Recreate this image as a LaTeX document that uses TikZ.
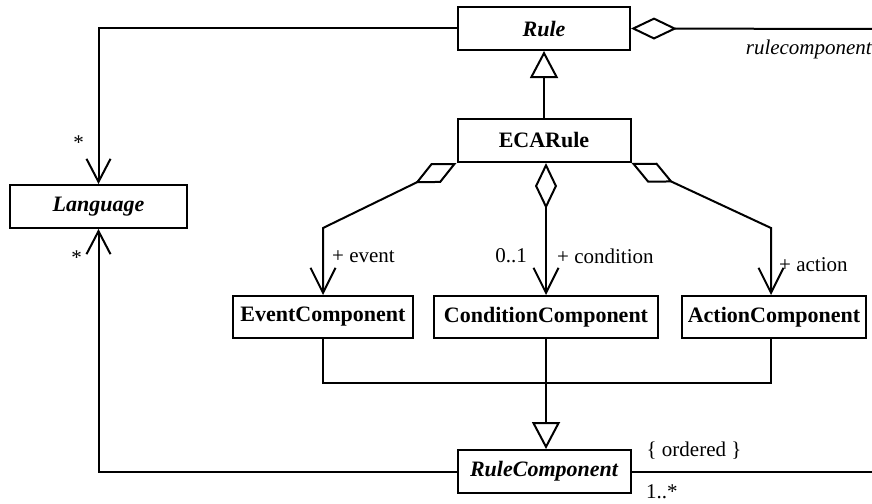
\documentclass[tikz,border=0pt]{standalone}
\usepackage{fontspec}
\setmainfont{Liberation Serif}
\usetikzlibrary{arrows.meta}
\begin{document}
\begin{tikzpicture}[x=1pt,y=-1pt,
  cls/.style={draw, line width=2pt, minimum height=43pt, inner sep=0pt, font=\fontsize{22}{26}\selectfont\bfseries},
  acls/.style={cls, font=\fontsize{22}{26}\selectfont\bfseries\itshape},
  lbl/.style={font=\fontsize{21}{25}\selectfont, inner sep=0pt},
  conn/.style={line width=2pt},
  nav/.style={conn, -{Straight Barb[length=23pt,width=24pt]}},
  aggnav/.style={conn, {Diamond[open,length=46pt,width=22pt]}-{Straight Barb[length=25pt,width=25pt]}},
  aggr/.style={conn, {Diamond[open,length=46pt,width=22pt]}-},
  gen/.style={conn, -{Triangle[open,length=27pt,width=28pt]}}
]
\useasboundingbox (0,0) rectangle (872,503);

% classes
\node[acls, minimum width=172pt] (rule) at (544,28.5) {Rule};
\node[cls, minimum width=173pt] (eca) at (544,140.5) {ECARule};
\node[acls, minimum width=177pt] (lang) at (98.5,206.5) {Language};
\node[cls, minimum width=180pt, minimum height=42pt] (ev) at (323,317) {EventComponent};
\node[cls, minimum width=224pt, minimum height=42pt] (cc) at (546,317) {ConditionComponent};
\node[cls, minimum width=184pt, minimum height=42pt] (ac) at (774,317) {ActionComponent};
\node[acls, minimum width=173pt] (rc) at (544,471.5) {RuleComponent};

% helper coordinates
\coordinate (rend) at (876,29);
\coordinate (rcend) at (876,471.5);
\coordinate (eb) at (323,228);
\coordinate (ab) at (771,228);
\coordinate (bl) at (323,383);
\coordinate (br) at (771,383);

% Rule -> Language
\draw[nav] (rule.west) -- (rule.west -| lang.north) -- (lang.north);
% RuleComponent -> Language
\draw[nav] (rc.west) -| (lang.south);
% Rule aggregation to rulecomponent
\draw[aggr] (rule.east) -- (rend);
\draw[conn] (rc.east) -- (rcend);
% generalization ECARule -> Rule
\draw[gen] (eca.north) -- (rule.south);
% ECARule aggregations
\draw[aggnav] (eca.south west) -- (eb) -- (ev.north);
\draw[aggnav] (eca.south -| cc.north) -- (cc.north);
\draw[aggnav] (eca.south east) -- (ab) -- (ab |- ac.north);
% components -> RuleComponent
\draw[conn] (ev.south) -- (bl) -- (br) -- (br |- ac.south);
\draw[gen] (cc.south) -- (cc.south |- rc.north);

% labels
\node[lbl, font=\fontsize{21}{25}\selectfont\itshape, anchor=base east] (lrc) at (872,55) {rulecomponent};
\node[lbl, anchor=base] (s1) at (78.5,149) {*};
\node[lbl, anchor=base] (s2) at (76.5,264) {*};
\node[lbl, anchor=base west] (lev) at (332,262) {+ event};
\node[lbl, anchor=base east] (l01) at (527,262) {0..1};
\node[lbl, anchor=base west] (lcond) at (557,263) {+ condition};
\node[lbl, anchor=base west] (lact) at (779,271) {+ action};
\node[lbl, anchor=base] (lord) at (694,456) {\{ ordered \}};
\node[lbl, anchor=base west] (lmul) at (646,498) {1..*};
\end{tikzpicture}
\end{document}
